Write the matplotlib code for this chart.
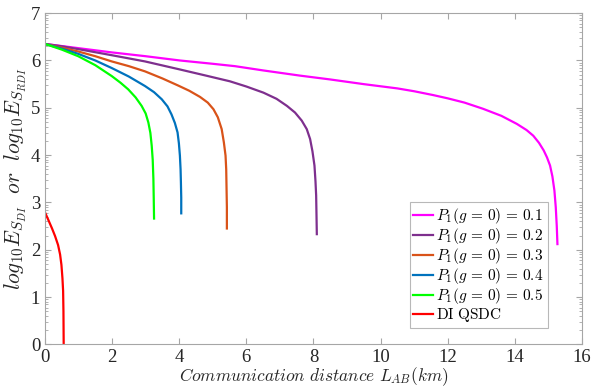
import numpy as np
import matplotlib
matplotlib.use("Agg")
import matplotlib.pyplot as plt
from matplotlib.ticker import FixedLocator

plt.rcParams['font.family'] = ['Liberation Serif', 'DejaVu Serif']
plt.rcParams['mathtext.fontset'] = 'cm'

# Read-off data (distance km, log10 E)
x_p01 = [0, 1, 2, 3, 4.02, 5, 5.66, 6.5, 7.6, 8.49, 9.5, 10.5, 11.0, 11.56, 12.0, 12.5, 13.05, 13.6, 14.06,
         14.35, 14.55, 14.72, 14.86, 14.96, 15.05, 15.12, 15.18, 15.22, 15.25, 15.27]
y_p01 = [6.35, 6.26, 6.17, 6.09, 6.00, 5.93, 5.88, 5.79, 5.68, 5.60, 5.50, 5.41, 5.35, 5.27, 5.20, 5.11, 4.98, 4.83, 4.66,
         4.53, 4.41, 4.26, 4.10, 3.95, 3.78, 3.55, 3.25, 2.90, 2.50, 2.12]

x_p02 = [0, 0.5, 0.99, 2, 2.98, 4.02, 4.8, 5.51, 6.0, 6.51, 6.9, 7.21, 7.45, 7.65, 7.80, 7.90,
         7.97, 8.03, 8.06, 8.08, 8.09, 8.10]
y_p02 = [6.35, 6.30, 6.24, 6.11, 5.98, 5.81, 5.68, 5.56, 5.45, 5.32, 5.19, 5.04, 4.90, 4.73, 4.55, 4.34,
         4.08, 3.78, 3.45, 3.15, 2.75, 2.33]

x_p03 = [0, 0.5, 0.99, 1.5, 1.99, 2.5, 2.98, 3.5, 3.97, 4.3, 4.62, 4.85, 5.02, 5.15, 5.265, 5.33,
         5.38, 5.40, 5.41, 5.42, 5.42]
y_p03 = [6.35, 6.27, 6.19, 6.09, 5.98, 5.88, 5.77, 5.62, 5.47, 5.36, 5.23, 5.11, 4.97, 4.80, 4.55, 4.27,
         3.99, 3.70, 3.30, 2.90, 2.45]

x_p04 = [0, 0.5, 0.99, 1.5, 1.99, 2.5, 2.98, 3.25, 3.48, 3.65, 3.77, 3.87, 3.95, 3.99, 4.02, 4.04,
         4.05, 4.06, 4.06]
y_p04 = [6.35, 6.25, 6.14, 6.00, 5.84, 5.66, 5.46, 5.33, 5.18, 5.03, 4.86, 4.68, 4.48, 4.25, 3.99, 3.70,
         3.43, 3.10, 2.77]

x_p05 = [0, 0.5, 0.99, 1.5, 1.99, 2.25, 2.48, 2.7, 2.88, 3.0, 3.08, 3.14, 3.18, 3.21, 3.23, 3.24, 3.25]
y_p05 = [6.35, 6.23, 6.09, 5.90, 5.67, 5.53, 5.39, 5.22, 5.04, 4.88, 4.69, 4.47, 4.20, 3.90, 3.50, 3.10, 2.66]

x_di = [0, 0.1, 0.21, 0.30, 0.39, 0.45, 0.49, 0.52, 0.54, 0.55, 0.557]
y_di = [2.79, 2.63, 2.45, 2.29, 2.10, 1.90, 1.68, 1.40, 1.13, 0.70, 0.0]

labels = [r'$P_1(g\,=\,0)\,=\,0.1$', r'$P_1(g\,=\,0)\,=\,0.2$', r'$P_1(g\,=\,0)\,=\,0.3$',
          r'$P_1(g\,=\,0)\,=\,0.4$', r'$P_1(g\,=\,0)\,=\,0.5$', r'$\mathrm{DI\ QSDC}$']
colors = ['#FF00FF', '#7E2F8E', '#D95319', '#0072BD', '#00FF00', '#FF0000']
xs = [x_p01, x_p02, x_p03, x_p04, x_p05, x_di]
ys = [y_p01, y_p02, y_p03, y_p04, y_p05, y_di]

fig = plt.figure(figsize=(5.92, 3.87), dpi=100)
ax = fig.add_axes([0.076, 0.11, 0.907, 0.856])

for x, y, c, l in zip(xs, ys, colors, labels):
    ax.plot(x, y, color=c, lw=1.6, label=l, solid_joinstyle='round')

ax.set_xlim(0, 16)
ax.set_ylim(0, 7)
ax.set_xticks(np.arange(0, 17, 2))
ax.set_yticks(np.arange(0, 8, 1))
minor = [n + np.log10(k) for n in range(7) for k in range(2, 10)]
ax.yaxis.set_minor_locator(FixedLocator(minor))

for s in ax.spines.values():
    s.set_color('#a6a6a6')
    s.set_linewidth(0.8)
ax.tick_params(which='both', direction='in', top=True, right=True, colors='#a6a6a6',
               labelcolor='#262626', labelsize=13.5)
ax.tick_params(which='major', length=4)
ax.tick_params(which='minor', length=2)
ax.tick_params(axis='x', pad=3)

ax.set_xlabel(r'$Communication\ distance\ L_{AB}(km)$', fontsize=12.5, color='#262626', labelpad=0)
ax.set_ylabel(r'$log_{10}E_{S_{DI}}\ \ or\ \ log_{10}E_{S_{RDI}}$', fontsize=15.5, color='#262626', labelpad=2)

leg = ax.legend(loc='lower right', bbox_to_anchor=(0.936, 0.05), fontsize=11, frameon=True,
                fancybox=False, edgecolor='#a6a6a6', handlelength=1.3, handletextpad=0.2,
                borderpad=0.25, labelspacing=0.0, borderaxespad=0.0)
leg.get_frame().set_linewidth(0.8)

fig.savefig('out.png', dpi=100)
